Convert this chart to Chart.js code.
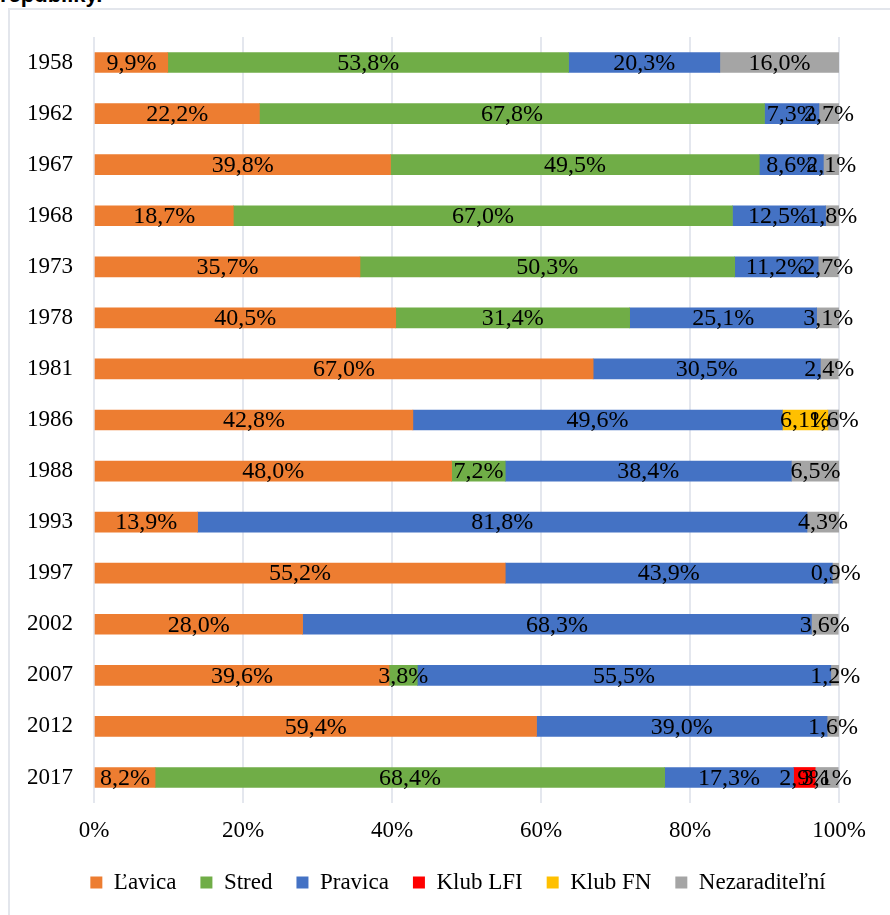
<!DOCTYPE html>
<html lang="sk">
<head>
<meta charset="utf-8">
<title>Zloženie parlamentu</title>
<script src="https://cdn.jsdelivr.net/npm/chart.js@4.4.1/dist/chart.umd.min.js"></script>
<style>
  html, body { margin: 0; padding: 0; background: #fff; overflow: hidden; }
  #nadpis {
    position: absolute; left: 0; top: -16px;
    font: bold 22px "Liberation Sans", Arial, sans-serif; line-height: 1; color: #000;
  }
  #ramec {
    position: absolute; left: 8px; top: 8px;
    border: 2px solid #e3e6ec;
    width: 880px; height: 905px;
  }
  #obal { position: relative; width: 880px; height: 905px; }
</style>
</head>
<body>
<div id="nadpis">republiky.</div>
<div id="ramec">
  <div id="obal"><canvas id="graf"></canvas></div>
</div>
<script>
// hodnoty v % (null = strana v danom roku nie je)
const roky = ['1958', '1962', '1967', '1968', '1973', '1978', '1981', '1986', '1988', '1993', '1997', '2002', '2007', '2012', '2017'];
const lavica        = [9.9, 22.2, 39.8, 18.7, 35.7, 40.5, 67.0, 42.8, 48.0, 13.9, 55.2, 28.0, 39.6, 59.4, 8.2];
const stred         = [53.8, 67.8, 49.5, 67.0, 50.3, 31.4, null, null, 7.2, null, null, null, 3.8, null, 68.4];
const pravica       = [20.3, 7.3, 8.6, 12.5, 11.2, 25.1, 30.5, 49.6, 38.4, 81.8, 43.9, 68.3, 55.5, 39.0, 17.3];
const klubLFI       = [null, null, null, null, null, null, null, null, null, null, null, null, null, null, 2.9];
const klubFN        = [null, null, null, null, null, null, null, 6.1, null, null, null, null, null, null, null];
const nezaraditelni = [16.0, 2.7, 2.1, 1.8, 2.7, 3.1, 2.4, 1.6, 6.5, 4.3, 0.9, 3.6, 1.2, 1.6, 3.1];
const osX = [0, 20, 40, 60, 80, 100];

const pismo = '"Liberation Serif", "Times New Roman", serif';

function formatPct(v) {
    return v.toFixed(1).replace('.', ',') + '%';
}

// popisky hodnôt v strede každého segmentu + posun legendy
const popisky = {
    id: 'popisky',
    afterLayout(chart) {
        chart.legend.left += 25;
        chart.legend.right += 25;
    },
    afterDatasetsDraw(chart) {
        const ctx = chart.ctx;
        ctx.save();
        ctx.font = '24px ' + pismo;
        ctx.fillStyle = '#000';
        ctx.textAlign = 'center';
        ctx.textBaseline = 'middle';
        chart.data.datasets.forEach((ds, i) => {
            const meta = chart.getDatasetMeta(i);
            if (meta.hidden) return;
            meta.data.forEach((bar, j) => {
                const v = ds.data[j];
                if (v == null) return;
                ctx.fillText(formatPct(v), (bar.x + bar.base) / 2, bar.y + 1);
            });
        });
        ctx.restore();
    }
};

const ctx = document.getElementById('graf').getContext('2d');
new Chart(ctx, {
    type: 'bar',
    data: {
        labels: roky,
        datasets: [
            { label: 'Ľavica', data: lavica, backgroundColor: '#ED7D31' },
            { label: 'Stred', data: stred, backgroundColor: '#70AD47' },
            { label: 'Pravica', data: pravica, backgroundColor: '#4472C4' },
            { label: 'Klub LFI', data: klubLFI, backgroundColor: '#FF0000' },
            { label: 'Klub FN', data: klubFN, backgroundColor: '#FFC000' },
            { label: 'Nezaraditeľní', data: nezaraditelni, backgroundColor: '#A5A5A5' }
        ]
    },
    options: {
        indexAxis: 'y',
        responsive: true,
        maintainAspectRatio: false,
        animation: false,
        barThickness: 20,
        layout: { padding: { left: 17, right: 51, top: 27, bottom: 11 } },
        scales: {
            x: {
                stacked: true,
                min: 0,
                max: 100,
                afterBuildTicks: scale => { scale.ticks = osX.map(v => ({ value: v })); },
                afterFit: scale => {
                    scale.height = 44;
                    scale.paddingLeft = 0;
                    scale.paddingRight = 0;
                },
                grid: { color: '#e4e7ee', lineWidth: 2, drawTicks: false },
                border: { display: false },
                ticks: {
                    padding: 14,
                    color: '#000',
                    font: { family: pismo, size: 23 },
                    callback: v => v + '%'
                }
            },
            y: {
                stacked: true,
                afterFit: scale => {
                    scale.width = 67;
                    scale.paddingTop = 0;
                    scale.paddingBottom = 0;
                },
                grid: { display: false, drawTicks: false },
                border: { display: false },
                ticks: {
                    padding: 21,
                    color: '#000',
                    font: { family: pismo, size: 23 }
                }
            }
        },
        plugins: {
            legend: {
                position: 'bottom',
                labels: {
                    boxWidth: 12,
                    boxHeight: 12,
                    padding: 24,
                    color: '#000',
                    font: { family: pismo, size: 23 }
                }
            },
            tooltip: { enabled: false }
        }
    },
    plugins: [popisky]
});
</script>
</body>
</html>
